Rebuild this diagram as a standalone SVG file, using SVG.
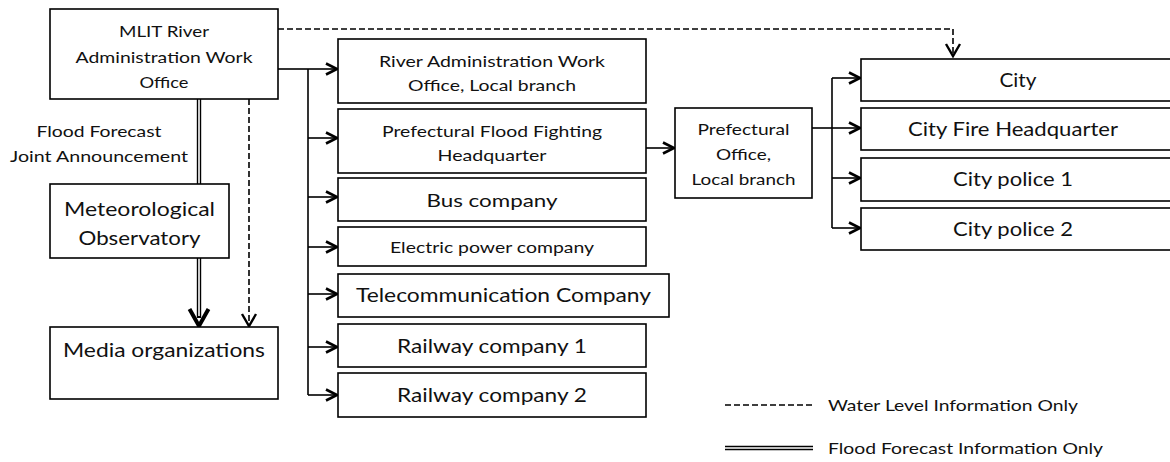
<svg xmlns="http://www.w3.org/2000/svg" width="1170" height="462" viewBox="0 0 1170 462">
<style>
.box{fill:#fff;stroke:#000;stroke-width:1.6}
text{font-family:Lato,"Liberation Sans",sans-serif;fill:#111;text-anchor:middle}
.s16{font-size:16px}
.s18{font-size:18px}
.s19{font-size:19px}
.s20{font-size:20px}
.ln{fill:none;stroke:#000;stroke-width:1.6}
.dash{fill:none;stroke:#000;stroke-width:1.6;stroke-dasharray:6,3}
.lg{text-anchor:start}
</style>
<defs>
<marker id="ah" markerUnits="userSpaceOnUse" markerWidth="14" markerHeight="14" refX="12" refY="6" orient="auto" overflow="visible">
<path d="M1,0.5 L12,6 L1,11.5" fill="none" stroke="#000" stroke-width="2.6"/>
</marker>
<marker id="ahd" markerUnits="userSpaceOnUse" markerWidth="14" markerHeight="16" refX="13" refY="7" orient="auto" overflow="visible">
<path d="M1,0 L13,7 L1,14" fill="none" stroke="#000" stroke-width="2.4"/>
</marker>
<marker id="ahb" markerUnits="userSpaceOnUse" markerWidth="20" markerHeight="22" refX="18" refY="10" orient="auto" overflow="visible">
<path d="M1,0.5 L18,10 L1,19.5" fill="none" stroke="#000" stroke-width="4"/>
</marker>
</defs>

<g id="connectors">
<path class="dash" d="M278,29 H953 V56" marker-end="url(#ahd)"/>
<path class="dash" d="M249,99 V326" marker-end="url(#ahd)"/>
<path class="ln" d="M278,69 H308"/>
<path class="ln" d="M308,69 V395"/>
<path class="ln" d="M308,69 H337" marker-end="url(#ah)"/>
<path class="ln" d="M308,138 H337" marker-end="url(#ah)"/>
<path class="ln" d="M308,197 H337" marker-end="url(#ah)"/>
<path class="ln" d="M308,247 H337" marker-end="url(#ah)"/>
<path class="ln" d="M308,294 H337" marker-end="url(#ah)"/>
<path class="ln" d="M308,347 H337" marker-end="url(#ah)"/>
<path class="ln" d="M308,395 H337" marker-end="url(#ah)"/>
<path class="ln" d="M646,148 H674" marker-end="url(#ah)"/>
<path class="ln" d="M812,128 H832"/>
<path class="ln" d="M832,78 V228"/>
<path class="ln" d="M832,78 H860" marker-end="url(#ah)"/>
<path class="ln" d="M832,128 H860" marker-end="url(#ah)"/>
<path class="ln" d="M832,178 H860" marker-end="url(#ah)"/>
<path class="ln" d="M832,228 H860" marker-end="url(#ah)"/>
<g id="double-1">
<path d="M199,99 V184" stroke="#000" stroke-width="4.4" fill="none"/>
<path d="M199,99 V184" stroke="#fff" stroke-width="1.6" fill="none"/>
</g>
<g id="double-2">
<path d="M199,258 V318" stroke="#000" stroke-width="4.4" fill="none"/>
<path d="M199,258 V316" stroke="#fff" stroke-width="1.6" fill="none"/>
<path d="M199,316 V326" stroke="none" fill="none" marker-end="url(#ahb)"/>
</g>
</g>

<g id="n-mlit">
<rect class="box" x="50" y="9" width="228" height="90"/>
<text class="s16" x="164" y="37" textLength="90" lengthAdjust="spacingAndGlyphs">MLIT River</text>
<text class="s16" x="164" y="63" textLength="177" lengthAdjust="spacingAndGlyphs">Administration Work</text>
<text class="s16" x="164" y="88" textLength="49" lengthAdjust="spacingAndGlyphs">Office</text>
</g>
<g id="label-joint">
<text class="s16" x="99" y="137" textLength="125" lengthAdjust="spacingAndGlyphs">Flood Forecast</text>
<text class="s16" x="99" y="162" textLength="178" lengthAdjust="spacingAndGlyphs">Joint Announcement</text>
</g>
<g id="n-met">
<rect class="box" x="50" y="184" width="179" height="74"/>
<text class="s20" x="139.5" y="216" textLength="151" lengthAdjust="spacingAndGlyphs">Meteorological</text>
<text class="s20" x="139.5" y="245" textLength="122" lengthAdjust="spacingAndGlyphs">Observatory</text>
</g>
<g id="n-media">
<rect class="box" x="50" y="327" width="228" height="72"/>
<text class="s20" x="164" y="357" textLength="202" lengthAdjust="spacingAndGlyphs">Media organizations</text>
</g>

<g id="n-river">
<rect class="box" x="338" y="39" width="308" height="64"/>
<text class="s16" x="492" y="67" textLength="226" lengthAdjust="spacingAndGlyphs">River Administration Work</text>
<text class="s16" x="492" y="91" textLength="168" lengthAdjust="spacingAndGlyphs">Office, Local branch</text>
</g>
<g id="n-pffh">
<rect class="box" x="338" y="109" width="308" height="64"/>
<text class="s16" x="492" y="137" textLength="220" lengthAdjust="spacingAndGlyphs">Prefectural Flood Fighting</text>
<text class="s16" x="492" y="161" textLength="109" lengthAdjust="spacingAndGlyphs">Headquarter</text>
</g>
<g id="n-bus">
<rect class="box" x="338" y="178" width="308" height="43"/>
<text class="s18" x="492" y="207" textLength="131" lengthAdjust="spacingAndGlyphs">Bus company</text>
</g>
<g id="n-elec">
<rect class="box" x="338" y="227" width="308" height="39"/>
<text class="s16" x="492" y="253" textLength="204" lengthAdjust="spacingAndGlyphs">Electric power company</text>
</g>
<g id="n-tele">
<rect class="box" x="338" y="274" width="331" height="43"/>
<text class="s19" x="503.5" y="302" textLength="295" lengthAdjust="spacingAndGlyphs">Telecommunication Company</text>
</g>
<g id="n-rail1">
<rect class="box" x="338" y="324" width="308" height="43"/>
<text class="s19" x="492" y="353" textLength="190" lengthAdjust="spacingAndGlyphs">Railway company 1</text>
</g>
<g id="n-rail2">
<rect class="box" x="338" y="373" width="308" height="44"/>
<text class="s19" x="492" y="402" textLength="190" lengthAdjust="spacingAndGlyphs">Railway company 2</text>
</g>

<g id="n-pref">
<rect class="box" x="675" y="108" width="137" height="90"/>
<text class="s16" x="743.5" y="135" textLength="92" lengthAdjust="spacingAndGlyphs">Prefectural</text>
<text class="s16" x="743.5" y="160" textLength="55" lengthAdjust="spacingAndGlyphs">Office,</text>
<text class="s16" x="743.5" y="185" textLength="104" lengthAdjust="spacingAndGlyphs">Local branch</text>
</g>

<g id="n-city">
<rect class="box" x="861" y="59" width="312" height="42"/>
<text class="s19" x="1018" y="87" textLength="37" lengthAdjust="spacingAndGlyphs">City</text>
</g>
<g id="n-fire">
<rect class="box" x="861" y="108" width="312" height="42"/>
<text class="s19" x="1013" y="136" textLength="210" lengthAdjust="spacingAndGlyphs">City Fire Headquarter</text>
</g>
<g id="n-pol1">
<rect class="box" x="861" y="158" width="312" height="43"/>
<text class="s19" x="1013" y="186" textLength="120" lengthAdjust="spacingAndGlyphs">City police 1</text>
</g>
<g id="n-pol2">
<rect class="box" x="861" y="208" width="312" height="42"/>
<text class="s19" x="1013" y="236" textLength="120" lengthAdjust="spacingAndGlyphs">City police 2</text>
</g>

<g id="legend">
<path class="dash" d="M725,405 H813"/>
<text class="s16 lg" x="828" y="411" textLength="250" lengthAdjust="spacingAndGlyphs">Water Level Information Only</text>
<path d="M725,448 H813" stroke="#000" stroke-width="4.4" fill="none"/>
<path d="M725,448 H813" stroke="#fff" stroke-width="1.6" fill="none"/>
<text class="s16 lg" x="828" y="454" textLength="275" lengthAdjust="spacingAndGlyphs">Flood Forecast Information Only</text>
</g>
</svg>
